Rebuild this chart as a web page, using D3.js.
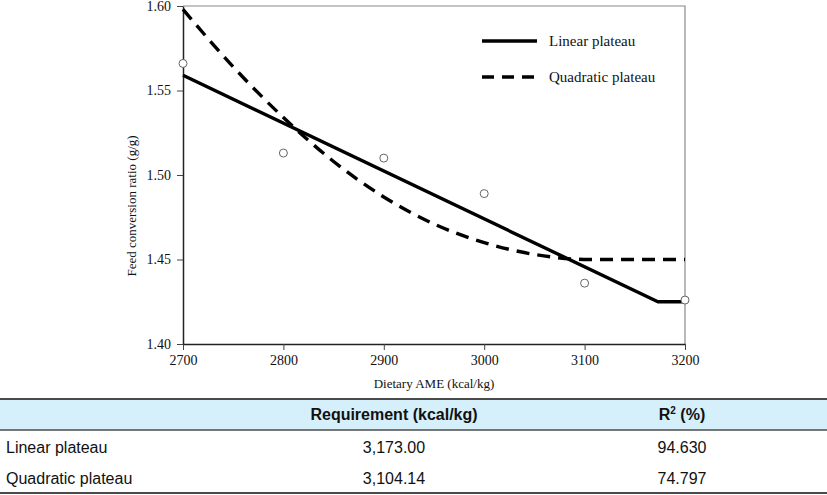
<!DOCTYPE html>
<html>
<head>
<meta charset="utf-8">
<script src="https://cdn.jsdelivr.net/npm/d3@7"></script>
<style>
  html, body { margin: 0; padding: 0; background: #fff; }
  svg { display: block; }
</style>
</head>
<body>
<svg id="chart" width="827" height="495"></svg>
<script>
// ---- data ----
const xTicks = [2700, 2800, 2900, 3000, 3100, 3200];
const yTicks = [1.40, 1.45, 1.50, 1.55, 1.60];
const obsAME = [2700, 2800, 2900, 3000, 3100, 3200];
const obsFCR = [1.566, 1.513, 1.510, 1.489, 1.436, 1.426];
const linearAME = [2700, 3173, 3200];
const linearFCR = [1.559, 1.425, 1.425];
const quadAME = [2700, 2750, 2800, 2850, 2900, 2950, 3000, 3050, 3104.14, 3200];
const quadFCR = [1.598, 1.564, 1.534, 1.508, 1.487, 1.471, 1.460, 1.453, 1.450, 1.450];
const legendNames = ["Linear plateau", "Quadratic plateau"];
const tableHeader = ["", "Requirement (kcal/kg)", "R2 (%)"];
const tableRows = ["Linear plateau", "Quadratic plateau"];
const tableReq = ["3,173.00", "3,104.14"];
const tableR2 = ["94.630", "74.797"];

// ---- layout ----
const svg = d3.select("#chart");
const L = 183, R = 685, T = 6, B = 344;
const x = d3.scaleLinear().domain([2700, 3200]).range([L, R]);
const y = d3.scaleLinear().domain([1.40, 1.60]).range([B, T]);
const serif = "'Liberation Serif', 'Times New Roman', serif";
const sans = "'Liberation Sans', Arial, sans-serif";

// frame (top & right gray)
svg.append("path")
  .attr("d", `M${L},${T}H${R}V${B}`)
  .attr("fill", "none").attr("stroke", "#8a8a8a").attr("stroke-width", 1.2);

// axes
const xAxis = svg.append("g").attr("transform", `translate(0,${B})`)
  .call(d3.axisBottom(x).tickValues(xTicks).tickFormat(d3.format("d")).tickSize(6).tickSizeOuter(0));
const yAxis = svg.append("g").attr("transform", `translate(${L},0)`)
  .call(d3.axisLeft(y).tickValues(yTicks).tickFormat(d3.format(".2f")).tickSize(6).tickSizeOuter(0));
[xAxis, yAxis].forEach(g => {
  g.attr("font-size", 14).attr("font-family", serif);
  g.select(".domain").attr("stroke", "#222").attr("stroke-width", 1.5);
  g.selectAll(".tick line").attr("stroke", "#444").attr("stroke-width", 1);
  g.selectAll(".tick text").attr("font-family", serif).attr("font-size", 14).attr("fill", "#111");
});
xAxis.selectAll(".tick text").attr("dy", "0.71em").attr("y", 11);
yAxis.selectAll(".tick text").attr("x", -12);

// axis titles
svg.append("text").attr("x", (L + R) / 2).attr("y", 388)
  .attr("text-anchor", "middle").attr("font-family", serif).attr("font-size", 13).attr("fill", "#111")
  .text("Dietary AME (kcal/kg)");
svg.append("text").attr("transform", `translate(136,206) rotate(-90)`)
  .attr("text-anchor", "middle").attr("font-family", serif).attr("font-size", 13).attr("fill", "#111")
  .text("Feed conversion ratio (g/g)");

// lines
const linData = linearAME.map((a, i) => [a, linearFCR[i]]);
const quadData = quadAME.map((a, i) => [a, quadFCR[i]]);
const curveLine = d3.line().x(d => x(d[0])).y(d => y(d[1])).curve(d3.curveMonotoneX);
const straightLine = d3.line().x(d => x(d[0])).y(d => y(d[1]));
svg.append("path").datum(quadData).attr("d", curveLine)
  .attr("fill", "none").attr("stroke", "#000").attr("stroke-width", 3.4).attr("stroke-dasharray", "13,8");
svg.append("path").datum(linData).attr("d", straightLine)
  .attr("fill", "none").attr("stroke", "#000").attr("stroke-width", 3.4).attr("stroke-linejoin", "round");

// observed points
svg.selectAll("circle.obs").data(obsAME).join("circle").attr("class", "obs")
  .attr("cx", d => x(d)).attr("cy", (d, i) => y(obsFCR[i])).attr("r", 4)
  .attr("fill", "#fff").attr("stroke", "#666").attr("stroke-width", 1);

// legend
const leg = svg.append("g");
[0, 1].forEach(i => {
  const ly = 41 + i * 36;
  leg.append("line").attr("x1", 482).attr("x2", 537).attr("y1", ly).attr("y2", ly)
    .attr("stroke", "#000").attr("stroke-width", 3.4)
    .attr("stroke-dasharray", i === 1 ? "12,8" : null);
  leg.append("text").attr("x", 549).attr("y", ly + 5).attr("font-family", serif).attr("font-size", 15)
    .attr("fill", "#111").text(legendNames[i]);
});

// table
const tbl = svg.append("g");
tbl.append("rect").attr("x", 0).attr("y", 399).attr("width", 827).attr("height", 31).attr("fill", "#d5effb");
tbl.append("line").attr("x1", 0).attr("x2", 827).attr("y1", 399).attr("y2", 399).attr("stroke", "#4a4a4a").attr("stroke-width", 2);
tbl.append("line").attr("x1", 0).attr("x2", 827).attr("y1", 430).attr("y2", 430).attr("stroke", "#4a4a4a").attr("stroke-width", 1.5);
tbl.append("line").attr("x1", 0).attr("x2", 827).attr("y1", 493).attr("y2", 493).attr("stroke", "#4a4a4a").attr("stroke-width", 2);
const colX = [6, 394, 682];
tbl.append("text").attr("x", colX[1]).attr("y", 420).attr("text-anchor", "middle")
  .attr("font-family", sans).attr("font-size", 16).attr("font-weight", "bold").attr("fill", "#111")
  .text(tableHeader[1]);
const r2 = tbl.append("text").attr("x", colX[2]).attr("y", 420).attr("text-anchor", "middle")
  .attr("font-family", sans).attr("font-size", 16).attr("font-weight", "bold").attr("fill", "#111");
r2.append("tspan").text("R");
r2.append("tspan").attr("font-size", 10).attr("dy", -6).text("2");
r2.append("tspan").attr("dy", 6).text(" (%)");
tableRows.forEach((name, i) => {
  const ty = 453 + i * 31;
  tbl.append("text").attr("x", colX[0]).attr("y", ty).attr("font-family", sans).attr("font-size", 16).attr("fill", "#111").text(name);
  tbl.append("text").attr("x", colX[1]).attr("y", ty).attr("text-anchor", "middle").attr("font-family", sans).attr("font-size", 16).attr("fill", "#111").text(tableReq[i]);
  tbl.append("text").attr("x", colX[2]).attr("y", ty).attr("text-anchor", "middle").attr("font-family", sans).attr("font-size", 16).attr("fill", "#111").text(tableR2[i]);
});
</script>
</body>
</html>
